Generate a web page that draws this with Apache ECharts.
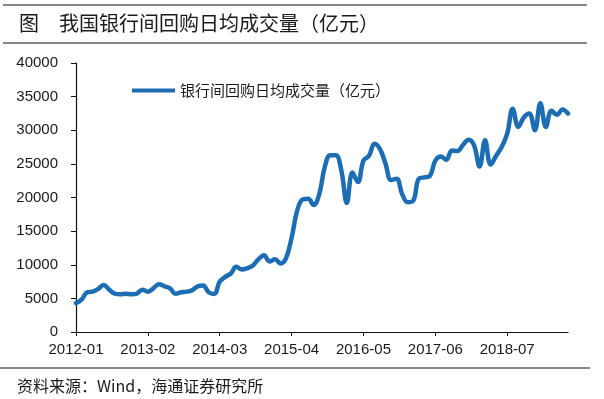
<!DOCTYPE html>
<html>
<head>
<meta charset="utf-8">
<script src="https://cdn.jsdelivr.net/npm/echarts@6/dist/echarts.min.js"></script>
<style>
  html, body { margin: 0; padding: 0; background: #fff; }
  #main { width: 604px; height: 399px; }
</style>
</head>
<body>
<div id="main"></div>
<script>
var dom = document.getElementById("main");
var myChart = echarts.init(dom);

// 月份：2012-01 ~ 2019-06
var months = [];
for (var y = 2012; y <= 2019; y++) {
    for (var m = 1; m <= 12; m++) {
        if (y === 2019 && m > 6) break;
        months.push(y + '-' + (m < 10 ? '0' + m : m));
    }
}

var seriesName = '银行间回购日均成交量（亿元）';
var volume = [
    4300, 4800, 5900, 6000, 6400, 7000, 6300, 5700, 5600, 5700,
    5600, 5700, 6300, 6000, 6500, 7100, 6800, 6500, 5700, 5900,
    6000, 6200, 6800, 6900, 5900, 5650, 7500, 8200, 8700, 9700,
    9300, 9500, 9900, 10800, 11400, 10500, 10800, 10200, 11000, 14000,
    18000, 19700, 19800, 18900, 20500, 24500, 26300, 26300, 24000, 19200,
    23700, 22300, 25500, 26200, 28000, 27200, 25000, 22600, 22800, 20500,
    19300, 19500, 22800, 23000, 23200, 25500, 26100, 25600, 27000, 26900,
    27800, 28600, 27800, 24600, 28500, 24900, 26200, 27500, 29500, 33200,
    30500, 31900, 32500, 30000, 34000, 30500, 32900, 32300, 33100, 32500
];

var titleText = '我国银行间回购日均成交量（亿元）';
var sourceText = '资料来源：Wind，海通证券研究所';
var textColor = '#1a1a1a';
var lineColor = '#1c6db3';

option = {
    backgroundColor: '#fff',
    animation: false,
    grid: {
        left: 76,
        right: 36,
        top: 63,
        bottom: 67,
        containLabel: false
    },
    graphic: [
        { type: 'line', shape: { x1: 3, y1: 5, x2: 587, y2: 5 }, style: { stroke: '#111', lineWidth: 1.2 } },
        { type: 'line', shape: { x1: 3, y1: 43, x2: 587, y2: 43 }, style: { stroke: '#111', lineWidth: 1.2 } },
        {
            type: 'text', left: 19, top: 13,
            style: { text: '图', fill: textColor, font: '20px "Noto Sans CJK SC"' }
        },
        {
            type: 'text', left: 59, top: 13,
            style: { text: titleText, fill: textColor, font: '20px "Noto Sans CJK SC"' }
        },
        { type: 'line', shape: { x1: 0, y1: 368, x2: 590, y2: 368 }, style: { stroke: '#111', lineWidth: 1.2 } },
        {
            type: 'text', left: 17, top: 378,
            style: { text: sourceText, fill: textColor, font: '16px "Noto Sans CJK SC"' }
        }
    ],
    legend: {
        left: 127,
        top: 78,
        icon: 'rect',
        itemWidth: 43,
        itemHeight: 4,
        itemGap: 4,
        textStyle: {
            color: textColor,
            fontSize: 15,
            fontFamily: '"Noto Sans CJK SC"'
        },
        data: [seriesName]
    },
    xAxis: {
        type: 'category',
        boundaryGap: false,
        data: months,
        axisLine: { lineStyle: { color: '#111', width: 1.2 } },
        axisTick: {
            show: true,
            length: 4,
            interval: 12,
            lineStyle: { color: '#111' }
        },
        axisLabel: {
            interval: 12,
            margin: 10,
            color: textColor,
            fontSize: 15,
            fontFamily: '"Liberation Sans", Arial'
        },
        splitLine: { show: false }
    },
    yAxis: {
        type: 'value',
        min: 0,
        max: 40000,
        interval: 5000,
        axisLine: { show: true, lineStyle: { color: '#111', width: 1.2 } },
        axisTick: { show: true, length: 5, lineStyle: { color: '#111' } },
        axisLabel: {
            margin: 18,
            color: textColor,
            fontSize: 15,
            fontFamily: '"Liberation Sans", Arial',
            formatter: function (v) { return String(v); }
        },
        splitLine: { show: false }
    },
    series: [
        {
            name: seriesName,
            type: 'line',
            data: volume,
            smooth: 0.4,
            symbol: 'none',
            lineStyle: { color: lineColor, width: 4.5, cap: 'round', join: 'round' },
            itemStyle: { color: lineColor }
        }
    ]
};
if (option && typeof option === "object") {
    myChart.setOption(option, true);
}
</script>
</body>
</html>
